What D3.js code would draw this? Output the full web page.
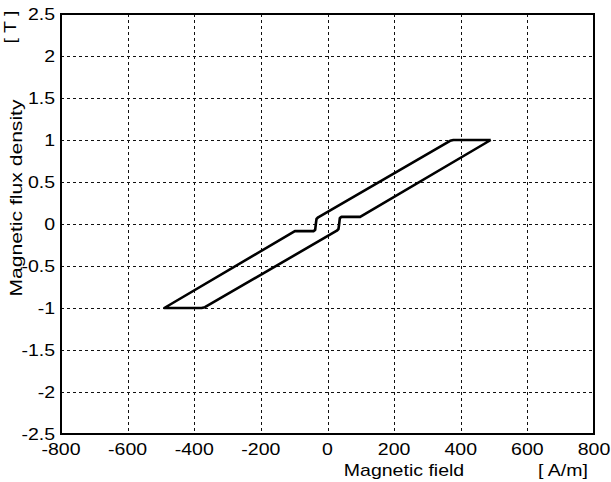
<!DOCTYPE html>
<html lang="en">
<head>
    <meta charset="UTF-8">
    <title>Hysteresis loop</title>
    <style>
        body { margin: 0; background: #fff; }
        svg text { font-family: "Liberation Sans", Arial, sans-serif; font-size: 16px; fill: #000; }
    </style>
</head>
<body>
    <svg id="chart" width="611" height="482"></svg>

    <script src="https://d3js.org/d3.v7.min.js"></script>
    <script>
        // loop data: field H [A/m] and flux density B [T]
        var fieldH = [490, 98, 42, 37, 35, 33, 28, -368, -378, -490,
                      -98, -42, -37, -35, -33, -28, 368, 378, 490];
        var fluxB  = [1, 0.085, 0.085, 0.07, 0, -0.06, -0.08, -0.99, -1, -1,
                      -0.085, -0.085, -0.07, 0, 0.06, 0.08, 0.99, 1, 1];

        var xTicks = [-800, -600, -400, -200, 0, 200, 400, 600, 800];
        var yTicks = [-2.5, -2, -1.5, -1, -0.5, 0, 0.5, 1, 1.5, 2, 2.5];

        var plotLeft = 61, plotRight = 594, plotTop = 14, plotBottom = 434;
        var stretch = 1.22;   // reference text is drawn a little wide

        var svg = d3.select("#chart");

        var x = d3.scaleLinear().domain([-800, 800]).range([plotLeft, plotRight]);
        var y = d3.scaleLinear().domain([-2.5, 2.5]).range([plotBottom, plotTop]);

        // grid lines
        var grid = svg.append("g")
            .attr("stroke", "#111")
            .attr("stroke-width", 1)
            .attr("stroke-dasharray", "3,3");

        grid.selectAll("line.v")
            .data(xTicks.slice(1, -1))
            .enter().append("line")
            .attr("x1", function(d) { return Math.round(x(d)) + 0.5; })
            .attr("x2", function(d) { return Math.round(x(d)) + 0.5; })
            .attr("y1", plotTop)
            .attr("y2", plotBottom);

        grid.selectAll("line.h")
            .data(yTicks.slice(1, -1))
            .enter().append("line")
            .attr("x1", plotLeft)
            .attr("x2", plotRight)
            .attr("y1", function(d) { return Math.round(y(d)) + 0.5; })
            .attr("y2", function(d) { return Math.round(y(d)) + 0.5; });

        // axes frame
        svg.append("rect")
            .attr("x", plotLeft)
            .attr("y", plotTop)
            .attr("width", plotRight - plotLeft)
            .attr("height", plotBottom - plotTop)
            .attr("fill", "none")
            .attr("stroke", "#000")
            .attr("stroke-width", 2);

        // tick labels
        svg.append("g")
            .selectAll("text")
            .data(xTicks)
            .enter().append("text")
            .attr("transform", function(d) { return "translate(" + x(d) + ",455) scale(" + stretch + ",1)"; })
            .attr("text-anchor", "middle")
            .text(function(d) { return d; });

        svg.append("g")
            .selectAll("text")
            .data(yTicks)
            .enter().append("text")
            .attr("transform", function(d) { return "translate(" + (plotLeft - 6) + "," + (y(d) + 6) + ") scale(" + stretch + ",1)"; })
            .attr("text-anchor", "end")
            .text(function(d) { return d; });

        // the loop
        var line = d3.line()
            .x(function(d, i) { return x(fieldH[i]); })
            .y(function(d, i) { return y(fluxB[i]); });

        svg.append("path")
            .datum(fieldH)
            .attr("d", line)
            .attr("fill", "none")
            .attr("stroke", "#000")
            .attr("stroke-width", 2.6)
            .attr("stroke-linejoin", "round");

        // axis titles
        svg.append("text")
            .attr("transform", "translate(404,476) scale(" + stretch + ",1)")
            .attr("text-anchor", "middle")
            .text("Magnetic field");

        svg.append("text")
            .attr("transform", "translate(563,476) scale(" + stretch + ",1)")
            .attr("text-anchor", "middle")
            .text("[ A/m]");

        svg.append("text")
            .attr("transform", "translate(22,198) rotate(-90) scale(1.32,1)")
            .attr("text-anchor", "middle")
            .text("Magnetic flux density");

        svg.append("text")
            .attr("transform", "translate(16,27) rotate(-90) scale(" + stretch + ",1)")
            .attr("text-anchor", "middle")
            .text("[ T ]");
    </script>
</body>
</html>
